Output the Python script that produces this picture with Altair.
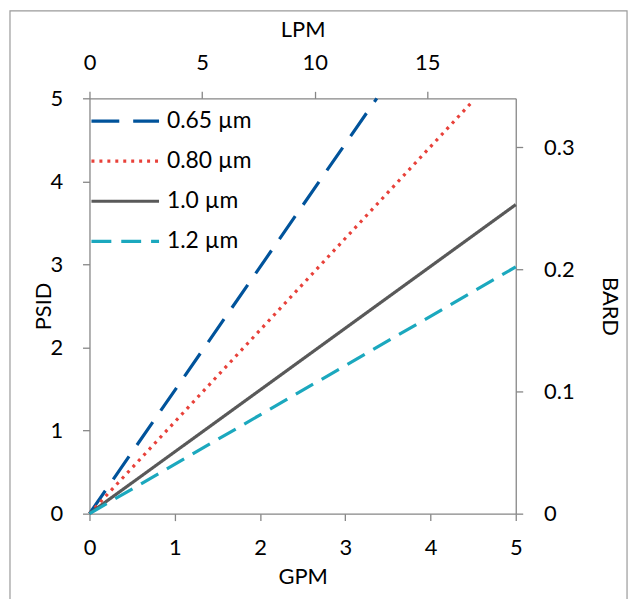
import altair as alt
import pandas as pd

# --- data ---
sizes = ["0.65 µm", "0.80 µm", "1.0 µm", "1.2 µm"]
gpm_start = [0.0, 0.0, 0.0, 0.0]
psid_start = [0.0, 0.0, 0.0, 0.0]
gpm_end = [3.37, 4.50, 5.0, 5.0]
psid_end = [5.0, 4.97, 3.72, 2.97]

colors = ["#00539B", "#E8413A", "#595959", "#1BA8BE"]
dashes = [[28, 14], [3, 5], [1, 0], [20, 10]]

lpm_ticks = [0, 5, 10, 15]
bard_ticks = [0, 0.1, 0.2, 0.3]
gpm_ticks = [0, 1, 2, 3, 4, 5]
psid_ticks = [0, 1, 2, 3, 4, 5]

rows = []
for s, x0, y0, x1, y1 in zip(sizes, gpm_start, psid_start, gpm_end, psid_end):
    rows.append({"size": s, "GPM": x0, "PSID": y0})
    rows.append({"size": s, "GPM": x1, "PSID": y1})
df = pd.DataFrame(rows)

FONT = "Lato"
FS = 22
AX = "#868686"

legend_opts = dict(title=None, orient="none", legendX=23, legendY=10,
                   symbolType="M-3,0H3", symbolSize=514,
                   symbolStrokeWidth=3.2, labelFontSize=23,
                   labelFont=FONT, labelColor="black",
                   labelOffset=29, rowPadding=15.3)

lines = alt.Chart(df).mark_line(strokeWidth=3.2).encode(
    x=alt.X("GPM:Q", scale=alt.Scale(domain=[0, 5], nice=False),
            axis=alt.Axis(orient="bottom", values=gpm_ticks, title="GPM",
                          labelPadding=17, titlePadding=8)),
    y=alt.Y("PSID:Q", scale=alt.Scale(domain=[0, 5], nice=False),
            axis=alt.Axis(orient="left", values=psid_ticks, title="PSID",
                          labelPadding=20, titlePadding=-6)),
    color=alt.Color("size:N", scale=alt.Scale(domain=sizes, range=colors),
                    legend=alt.Legend(**legend_opts)),
    strokeDash=alt.StrokeDash("size:N", scale=alt.Scale(domain=sizes, range=dashes),
                              legend=alt.Legend(**legend_opts)),
    detail="size:N",
)

sec = pd.DataFrame({"LPM": [0, 18.93], "BARD": [0, 0.34]})
secondary = alt.Chart(sec).mark_point(opacity=0).encode(
    x=alt.X("LPM:Q", scale=alt.Scale(domain=[0, 18.93], nice=False),
            axis=alt.Axis(orient="top", values=lpm_ticks, title="LPM",
                          labelPadding=17, titlePadding=10)),
    y=alt.Y("BARD:Q", scale=alt.Scale(domain=[0, 0.34], nice=False),
            axis=alt.Axis(orient="right", values=bard_ticks, title="BARD",
                          labelExpr="format(datum.value, '~g')",
                          labelPadding=21, titlePadding=24)),
)

border = alt.Chart(alt.Data(values=[{}])).mark_rect(
    fill=None, stroke="#9a9a9a", strokeWidth=1.2
).encode(
    x=alt.value(-80), x2=alt.value(541), y=alt.value(-88), y2=alt.value(530)
)

chart = alt.layer(lines, secondary, border).resolve_scale(
    x="independent", y="independent"
).properties(
    width=429, height=418,
    background="white",
    autosize=alt.AutoSizeParams(type="none"),
    padding={"left": 82, "top": 89, "right": 118, "bottom": 84},
).configure_view(stroke=None).configure_axis(
    domainColor=AX, tickColor=AX, domainWidth=1.3, tickWidth=1.3, tickSize=7,
    grid=False, labelFlush=False, labelFont=FONT, labelFontSize=FS, labelColor="black",
    titleFont=FONT, titleFontSize=FS, titleFontWeight="normal", titleColor="black",
)

chart.save("out.html", embed_options={"renderer": "svg", "actions": False})
